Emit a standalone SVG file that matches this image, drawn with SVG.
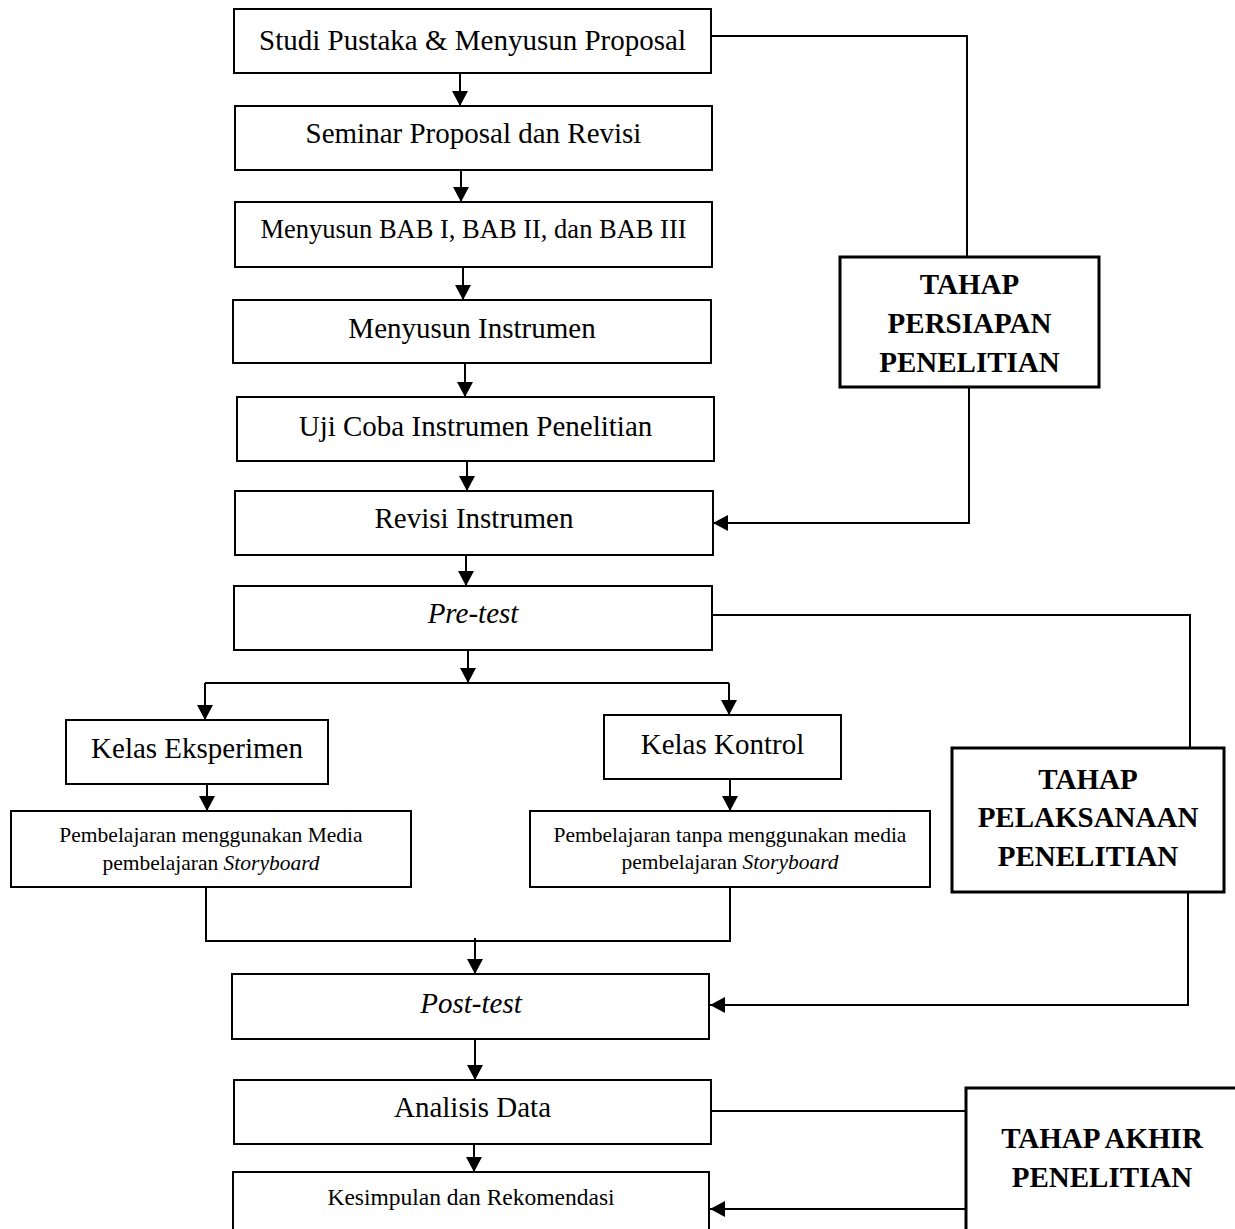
<svg xmlns="http://www.w3.org/2000/svg" width="1235" height="1229" viewBox="0 0 1235 1229">
<defs>
<marker id="arr" markerUnits="userSpaceOnUse" markerWidth="16" markerHeight="16" refX="15" refY="8" orient="auto">
<path d="M0,0 L15,8 L0,16 z" fill="#000"/>
</marker>
<style>
.box{fill:#fff;stroke:#000;stroke-width:2}
.tbox{fill:#fff;stroke:#000;stroke-width:3}
.t{font-family:"Liberation Serif","Times New Roman",serif;font-size:29px;text-anchor:middle;fill:#000}
.s{font-size:21.5px}
.i{font-style:italic}
.b{font-weight:bold}
.ln{fill:none;stroke:#000;stroke-width:2}
.ar{fill:none;stroke:#000;stroke-width:2;marker-end:url(#arr)}
</style>
</defs>
<rect width="1235" height="1229" fill="#fff"/>
<g id="connectors">
<polyline class="ln" points="711,36 967,36 967,257"/>
<polyline class="ar" points="969,387 969,523 713,523"/>
<polyline class="ln" points="706,615 1190,615 1190,748"/>
<polyline class="ar" points="1188,892 1188,1005 710,1005"/>
<line class="ln" x1="712" y1="1111" x2="966" y2="1111"/>
<line class="ar" x1="966" y1="1209" x2="710" y2="1209"/>
<line class="ar" x1="460" y1="73" x2="460" y2="106"/>
<line class="ar" x1="461" y1="165" x2="461" y2="202"/>
<line class="ar" x1="463" y1="262" x2="463" y2="300"/>
<line class="ar" x1="465" y1="360" x2="465" y2="397"/>
<line class="ar" x1="467" y1="456" x2="467" y2="491"/>
<line class="ar" x1="466" y1="552" x2="466" y2="586"/>
<line class="ar" x1="468" y1="647" x2="468" y2="683"/>
<line class="ln" x1="205" y1="683" x2="729" y2="683"/>
<line class="ar" x1="205" y1="683" x2="205" y2="720"/>
<line class="ar" x1="729" y1="683" x2="729" y2="715"/>
<line class="ar" x1="207" y1="780" x2="207" y2="811"/>
<line class="ar" x1="730" y1="779" x2="730" y2="811"/>
<polyline class="ln" points="206,884 206,941 730,941 730,881"/>
<line class="ar" x1="475" y1="938" x2="475" y2="974"/>
<line class="ar" x1="475" y1="1037" x2="475" y2="1080"/>
<line class="ar" x1="474" y1="1140" x2="474" y2="1172"/>
</g>
<g id="n-studi"><rect class="box" x="234" y="9" width="477" height="64"/><text class="t" x="472.5" y="50">Studi Pustaka &amp; Menyusun Proposal</text></g>
<g id="n-seminar"><rect class="box" x="235" y="106" width="477" height="64"/><text class="t" x="473.5" y="143">Seminar Proposal dan Revisi</text></g>
<g id="n-bab"><rect class="box" x="235" y="202" width="477" height="65"/><text class="t" x="473.5" y="238" style="font-size:26.5px">Menyusun BAB I, BAB II, dan BAB III</text></g>
<g id="n-instrumen"><rect class="box" x="233" y="300" width="478" height="63"/><text class="t" x="472" y="338">Menyusun Instrumen</text></g>
<g id="n-ujicoba"><rect class="box" x="237" y="397" width="477" height="64"/><text class="t" x="475.5" y="436">Uji Coba Instrumen Penelitian</text></g>
<g id="n-revisi"><rect class="box" x="235" y="491" width="478" height="64"/><text class="t" x="474" y="528">Revisi Instrumen</text></g>
<g id="n-pretest"><rect class="box" x="234" y="586" width="478" height="64"/><text class="t i" x="473" y="623">Pre-test</text></g>
<g id="n-eksperimen"><rect class="box" x="66" y="720" width="262" height="64"/><text class="t" x="197" y="758">Kelas Eksperimen</text></g>
<g id="n-kontrol"><rect class="box" x="604" y="715" width="237" height="64"/><text class="t" x="722.5" y="754">Kelas Kontrol</text></g>
<g id="n-pemb-media"><rect class="box" x="11" y="811" width="400" height="76"/><text class="t s" x="211" y="842">Pembelajaran menggunakan Media</text><text class="t s" x="211" y="870">pembelajaran <tspan class="i">Storyboard</tspan></text></g>
<g id="n-pemb-tanpa"><rect class="box" x="530" y="811" width="400" height="76"/><text class="t s" x="730" y="842">Pembelajaran tanpa menggunakan media</text><text class="t s" x="730" y="869">pembelajaran <tspan class="i">Storyboard</tspan></text></g>
<g id="n-posttest"><rect class="box" x="232" y="974" width="477" height="65"/><text class="t i" x="471" y="1013">Post-test</text></g>
<g id="n-analisis"><rect class="box" x="234" y="1080" width="477" height="64"/><text class="t" x="472.5" y="1117">Analisis Data</text></g>
<g id="n-kesimpulan"><rect class="box" x="233" y="1172" width="476" height="90"/><text class="t" x="471" y="1205" style="font-size:23.5px">Kesimpulan dan Rekomendasi</text></g>
<g id="n-persiapan"><rect class="tbox" x="840" y="257" width="259" height="130"/><text class="t b" x="969.5" y="294">TAHAP</text><text class="t b" x="969.5" y="333">PERSIAPAN</text><text class="t b" x="969.5" y="372">PENELITIAN</text></g>
<g id="n-pelaksanaan"><rect class="tbox" x="952" y="748" width="272" height="144"/><text class="t b" x="1088" y="789">TAHAP</text><text class="t b" x="1088" y="827">PELAKSANAAN</text><text class="t b" x="1088" y="866">PENELITIAN</text></g>
<g id="n-akhir"><rect class="tbox" x="966" y="1088" width="300" height="200"/><text class="t b" x="1102" y="1148">TAHAP AKHIR</text><text class="t b" x="1102" y="1187">PENELITIAN</text></g>
</svg>
